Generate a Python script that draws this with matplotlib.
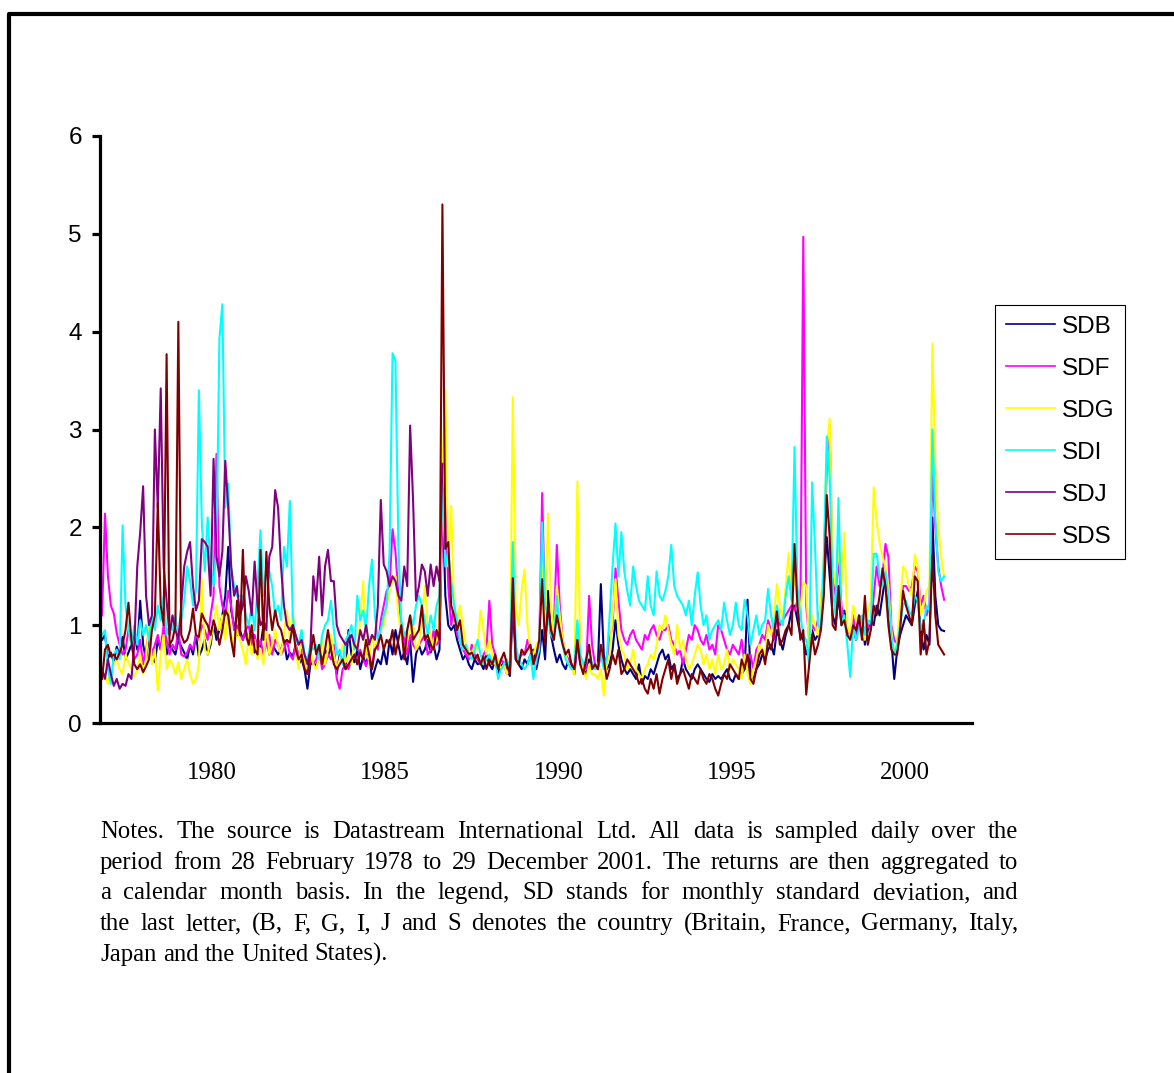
import matplotlib
matplotlib.use("Agg")
import matplotlib.pyplot as plt
import numpy as np
from matplotlib.lines import Line2D

# monthly standard deviations, one row of 12 per line
SDB = [0.85,0.90,0.66,0.72,0.62,0.78,0.70,0.88,0.65,0.72,0.80,0.95,
       0.75,1.25,0.80,0.65,0.90,0.70,0.62,0.85,0.75,0.95,0.70,0.80,
       0.75,0.70,0.85,0.78,0.72,0.65,0.80,0.70,0.90,0.68,0.75,0.85,
       0.70,0.80,1.02,0.85,0.95,1.10,1.30,1.80,1.15,1.00,0.90,0.95,
       0.85,0.95,0.80,0.90,0.72,0.85,0.78,1.00,0.92,0.70,0.80,0.75,
       0.70,0.75,0.85,0.65,0.72,0.68,0.80,0.60,0.65,0.55,0.35,0.60,
       0.62,0.58,0.70,0.60,0.75,0.68,0.80,0.65,0.50,0.70,0.62,0.55,
       0.95,0.70,0.62,0.75,0.55,0.68,0.60,0.72,0.45,0.55,0.65,0.60,
       0.75,0.60,0.85,0.70,0.95,0.80,0.65,0.72,0.60,0.85,0.42,0.70,
       0.80,0.70,0.75,0.85,0.72,0.80,0.65,0.75,2.40,1.30,1.00,0.95,
       1.00,0.85,0.75,0.65,0.70,0.60,0.55,0.65,0.60,0.62,0.55,0.70,
       0.60,0.55,0.65,0.50,0.58,0.62,0.55,0.48,1.20,0.65,0.60,0.55,
       0.65,0.60,0.70,0.75,0.55,0.70,0.95,0.65,1.35,0.90,0.75,0.62,
       0.70,0.60,0.55,0.65,0.60,0.50,0.85,0.60,0.55,0.50,0.65,0.60,
       0.55,0.60,1.42,0.70,0.55,0.60,0.75,1.05,0.80,0.65,0.55,0.50,
       0.55,0.50,0.45,0.60,0.40,0.48,0.45,0.55,0.50,0.60,0.70,0.75,
       0.65,0.70,0.55,0.60,0.45,0.50,0.65,0.55,0.50,0.45,0.55,0.60,
       0.55,0.50,0.45,0.42,0.50,0.45,0.48,0.45,0.50,0.55,0.45,0.42,
       0.50,0.45,0.50,0.55,1.26,0.50,0.45,0.55,0.60,0.70,0.65,0.75,
       0.80,0.70,0.95,0.85,0.75,0.90,1.00,1.15,1.20,1.05,0.90,0.85,
       0.70,0.80,0.95,0.85,0.90,1.00,1.40,1.90,1.50,1.10,1.00,1.30,
       1.00,1.15,0.95,0.90,1.00,0.85,1.10,1.05,0.80,0.95,1.05,1.00,
       1.20,1.10,1.30,1.50,1.20,0.85,0.45,0.75,0.90,1.00,1.10,1.05,
       1.00,1.20,1.35,0.95,0.75,0.90,0.80,2.10,1.30,1.00,0.95,0.94]

SDF = [1.10,2.14,1.50,1.20,1.12,0.92,0.80,0.70,0.75,0.95,0.82,0.65,
       0.70,0.85,0.60,0.75,0.95,0.70,0.80,0.90,0.75,1.00,0.85,0.70,
       0.80,0.75,0.95,0.70,0.68,0.72,0.80,0.75,0.90,0.85,1.00,0.95,
       0.85,1.10,1.30,2.75,1.40,1.20,1.10,1.35,1.20,0.95,1.00,0.90,
       0.85,0.95,1.00,0.80,0.90,0.75,0.85,0.70,0.80,0.90,0.70,0.85,
       0.80,0.70,0.75,0.85,0.70,0.65,0.80,0.70,0.75,0.60,0.50,0.65,
       0.60,0.65,0.75,0.55,0.60,0.70,0.65,0.80,0.45,0.35,0.55,0.60,
       0.55,0.65,0.70,0.60,0.75,0.65,0.58,0.70,0.55,0.80,0.75,1.05,
       1.20,1.35,1.40,1.98,1.75,1.30,1.00,0.85,0.70,0.90,0.80,0.75,
       0.80,0.85,0.90,0.70,0.75,0.95,0.80,0.85,2.10,2.30,1.40,1.00,
       1.20,0.90,0.85,0.75,0.70,0.65,0.80,0.70,0.65,0.60,0.70,0.75,
       1.25,0.80,0.70,0.55,0.65,0.60,0.50,0.55,1.40,0.75,0.65,0.70,
       0.70,0.85,0.75,0.65,0.60,0.80,2.35,1.10,1.20,0.90,1.00,1.82,
       1.20,0.85,0.70,0.65,0.60,0.55,0.80,0.65,0.60,0.55,1.30,0.80,
       0.60,0.55,0.70,0.65,0.60,0.85,1.00,1.58,1.25,0.95,0.85,0.80,
       0.90,0.95,0.85,0.80,0.75,0.90,0.85,0.95,1.00,0.90,0.85,0.95,
       0.95,1.00,0.85,0.80,0.70,0.75,0.60,0.75,0.90,0.85,1.00,0.95,
       0.85,0.80,0.90,0.75,0.80,0.70,1.00,0.95,0.85,0.75,0.70,0.80,
       0.75,0.70,0.85,0.60,0.65,0.70,0.55,0.75,0.80,0.90,0.85,1.05,
       0.95,0.85,1.10,1.00,1.05,1.10,1.15,1.20,1.15,1.25,1.05,4.97,
       1.20,0.85,1.00,0.95,1.05,1.20,1.60,2.60,3.05,1.50,1.30,1.70,
       1.20,1.05,0.95,0.90,1.10,0.85,1.00,1.05,0.90,1.00,0.95,1.30,
       1.60,1.40,1.50,1.83,1.70,1.00,0.85,0.80,1.10,1.40,1.40,1.35,
       1.40,1.60,1.55,1.20,1.30,1.10,1.20,2.60,2.00,1.60,1.40,1.26]

SDG = [0.45,0.50,0.40,0.55,0.60,0.65,0.55,0.50,0.70,0.62,0.55,0.48,
       0.55,0.70,0.50,0.65,1.05,0.60,0.75,0.33,0.70,0.90,0.55,0.65,
       0.60,0.50,0.62,0.45,0.55,0.65,0.50,0.40,0.45,0.60,1.48,0.75,
       0.70,0.85,1.00,1.20,0.95,1.10,0.85,1.15,0.90,0.80,0.95,0.85,
       0.75,0.60,0.90,0.70,0.85,0.65,0.75,0.60,1.00,0.70,0.80,0.95,
       0.80,0.70,0.90,1.15,0.85,1.15,0.75,0.55,0.95,0.60,0.55,0.75,
       0.60,0.55,0.70,0.85,0.60,0.75,0.90,0.70,0.55,0.65,0.80,0.62,
       0.70,0.60,0.85,0.75,1.05,1.45,0.70,0.65,0.90,0.75,0.85,0.95,
       1.00,1.20,1.35,1.45,1.50,1.10,0.90,0.70,0.85,0.95,1.00,0.75,
       0.80,1.05,1.40,1.00,0.90,0.75,0.85,1.05,2.60,3.40,1.60,2.22,
       1.15,1.05,1.20,1.00,0.80,0.75,0.70,0.80,0.75,1.15,0.95,0.70,
       0.85,0.70,0.60,0.65,0.55,0.60,0.50,0.58,3.33,1.20,1.00,1.35,
       1.57,1.00,0.75,0.70,0.80,0.85,1.60,0.95,2.14,1.20,0.90,1.40,
       1.10,0.85,0.70,0.60,0.55,0.50,2.47,0.70,0.55,0.45,0.60,0.50,
       0.50,0.45,0.55,0.28,0.60,0.70,1.10,1.47,0.90,0.75,0.70,0.55,
       0.60,0.75,0.55,0.50,0.45,0.55,0.60,0.70,0.65,0.80,1.00,0.95,
       1.10,0.95,0.80,0.70,1.00,0.75,0.85,0.65,0.55,0.60,0.70,0.80,
       0.75,0.60,0.70,0.55,0.65,0.50,0.70,0.55,0.60,0.75,0.55,0.65,
       0.60,0.55,0.45,0.70,0.50,0.40,0.55,0.65,0.80,0.75,0.70,1.00,
       0.90,1.10,1.42,1.20,1.05,1.40,1.74,1.30,1.50,1.20,1.15,1.44,
       1.40,0.75,1.10,1.00,0.90,1.25,1.70,2.80,3.11,1.60,1.40,1.80,
       1.40,1.95,1.00,0.90,1.20,1.05,1.10,0.95,0.85,1.15,1.25,2.41,
       2.05,1.85,1.70,1.60,1.40,0.95,0.70,0.85,1.20,1.60,1.55,1.40,
       1.30,1.72,1.60,1.10,1.20,1.35,1.40,3.88,2.60,2.00,1.70,1.49]

SDI = [0.90,0.95,0.55,0.40,0.70,0.75,0.65,2.02,1.20,0.95,0.80,1.00,
       0.80,1.05,0.90,1.00,0.85,1.10,0.95,1.20,1.05,1.30,0.90,1.00,
       0.95,1.10,0.85,1.05,1.25,1.60,1.45,1.20,1.35,3.40,2.05,1.55,
       2.10,1.60,1.40,1.80,3.93,4.28,2.20,2.45,1.60,1.40,1.30,1.30,
       1.30,1.10,1.00,1.20,0.95,1.40,1.97,1.30,1.60,1.55,1.40,1.10,
       1.20,1.05,1.80,1.60,2.27,1.10,0.85,0.80,0.95,0.70,0.65,0.80,
       0.75,0.80,0.65,0.90,1.00,1.05,1.25,0.95,0.70,0.75,0.60,0.85,
       0.90,1.00,0.75,1.30,1.05,1.15,0.95,1.40,1.67,1.10,0.85,0.95,
       1.10,1.20,1.75,3.78,3.70,1.80,1.05,0.90,0.95,1.10,1.00,1.20,
       1.30,1.20,1.05,0.90,1.10,0.95,1.20,1.30,2.50,1.60,1.75,1.45,
       1.20,1.05,0.85,0.75,0.80,0.70,0.65,0.75,0.85,0.70,0.60,0.65,
       0.70,0.60,0.65,0.45,0.55,0.60,0.65,0.55,1.85,0.80,0.65,0.60,
       0.55,0.60,0.70,0.45,0.65,0.75,2.05,1.20,1.10,0.90,0.85,1.30,
       0.90,0.80,0.65,0.60,0.55,0.60,1.05,0.70,0.60,0.65,0.75,0.60,
       0.55,0.60,0.70,0.55,0.65,1.10,1.60,2.04,1.50,1.95,1.55,1.35,
       1.20,1.60,1.40,1.25,1.20,1.15,1.50,1.20,1.10,1.55,1.30,1.25,
       1.35,1.50,1.82,1.40,1.30,1.25,1.20,1.10,1.25,1.00,1.30,1.54,
       1.20,1.00,1.10,0.85,0.95,1.00,1.05,0.95,1.23,1.05,0.90,1.00,
       1.23,1.00,0.95,1.26,1.10,0.80,0.95,1.10,0.90,1.00,1.05,1.37,
       1.10,0.95,1.20,1.05,1.00,1.30,1.50,1.25,2.82,1.40,1.10,0.90,
       0.85,0.60,2.46,1.80,1.00,0.95,1.70,2.93,2.50,1.40,1.10,2.30,
       1.00,1.10,0.80,0.47,1.00,0.85,0.95,1.10,0.90,1.05,1.00,1.73,
       1.73,1.50,1.40,1.55,1.30,0.90,0.70,0.80,1.00,1.20,1.25,1.15,
       1.10,1.30,1.25,0.95,1.00,1.20,1.15,3.00,2.10,1.55,1.45,1.50]

# Japan series stops after the 1987 crash
SDJ = [0.55,0.45,0.65,0.50,0.38,0.45,0.35,0.40,0.38,0.50,0.45,0.80,
       1.60,1.95,2.42,1.30,1.00,1.10,3.00,2.20,3.42,1.60,1.25,0.90,
       1.10,0.95,0.85,1.20,1.60,1.75,1.85,1.40,1.15,1.25,1.88,1.85,
       1.80,1.30,2.70,1.70,1.50,1.75,2.68,2.20,1.60,1.30,1.40,1.10,
       1.20,1.50,1.35,1.10,1.65,1.20,1.00,1.05,0.95,1.70,1.80,2.38,
       2.20,1.60,1.20,1.00,0.95,1.00,0.90,0.80,0.85,0.70,0.60,0.75,
       1.50,1.25,1.70,1.10,1.60,1.77,1.45,1.45,1.00,0.90,0.85,0.80,
       0.85,0.90,0.80,0.75,0.95,0.85,1.00,0.80,0.90,0.85,1.20,2.28,
       1.62,1.55,1.40,1.50,1.45,1.30,1.25,1.60,1.40,3.04,2.28,1.25,
       1.40,1.62,1.55,1.30,1.62,1.40,1.60,1.45,2.65]

SDS = [0.45,0.75,0.80,0.68,0.70,0.65,0.72,0.80,0.95,1.23,0.85,0.60,
       0.55,0.60,0.52,0.58,0.65,0.95,1.10,2.25,1.20,1.00,3.77,0.80,
       0.85,1.00,4.10,0.90,0.82,0.85,0.95,1.17,0.90,0.88,1.12,1.05,
       1.00,0.90,1.05,0.95,0.80,0.95,1.15,1.10,0.85,0.68,1.25,0.90,
       1.77,0.90,0.80,1.00,0.75,0.70,1.77,0.85,1.75,1.20,0.95,1.15,
       1.00,0.95,0.82,0.85,0.82,1.00,0.75,0.65,0.70,0.55,0.50,0.70,
       0.90,0.70,0.80,0.60,0.75,0.95,0.75,0.60,0.55,0.60,0.65,0.55,
       0.60,0.65,0.70,0.60,0.72,0.65,0.85,0.70,0.55,0.75,0.80,0.90,
       0.75,0.85,0.80,0.95,0.70,0.85,1.00,0.65,0.95,1.10,0.85,0.90,
       0.95,1.20,0.85,0.90,0.80,0.75,0.95,0.85,5.30,1.78,1.85,1.20,
       1.10,0.95,1.05,0.80,0.75,0.70,0.72,0.65,0.70,0.60,0.68,0.55,
       0.65,0.60,0.70,0.55,0.65,0.72,0.60,0.50,1.48,0.65,0.60,0.75,
       0.70,0.75,0.80,0.60,0.70,0.85,1.47,0.80,1.20,0.95,0.85,1.10,
       0.95,0.80,0.70,0.75,0.60,0.55,0.85,0.60,0.50,0.65,0.80,0.55,
       0.60,0.55,0.80,0.65,0.45,0.55,0.70,0.60,0.75,0.50,0.55,0.65,
       0.60,0.55,0.50,0.40,0.45,0.35,0.30,0.45,0.35,0.50,0.30,0.45,
       0.55,0.65,0.45,0.60,0.40,0.50,0.55,0.45,0.35,0.50,0.45,0.40,
       0.55,0.45,0.40,0.50,0.45,0.35,0.28,0.40,0.50,0.45,0.60,0.55,
       0.50,0.45,0.65,0.55,0.70,0.45,0.40,0.55,0.70,0.75,0.60,0.85,
       0.75,0.90,1.14,0.80,0.85,0.95,1.00,0.90,1.83,1.20,0.85,0.95,
       0.29,0.60,0.90,0.70,0.80,0.95,1.30,2.33,1.90,1.00,0.95,1.40,
       1.00,1.05,0.90,0.85,1.00,0.95,1.10,0.85,1.30,0.80,0.95,1.20,
       1.10,1.30,1.58,1.40,1.00,0.75,0.70,0.70,0.95,1.35,1.20,1.10,
       1.00,1.50,1.45,0.70,1.05,0.70,0.85,1.72,1.10,0.80,0.75,0.70]

names = ["SDB", "SDF", "SDG", "SDI", "SDJ", "SDS"]
colors = ["#000080", "#FF00FF", "#FFFF00", "#00FFFF", "#800080", "#800000"]
year_labels = ["1980", "1985", "1990", "1995", "2000"]
year_pos = [37.5, 96.5, 155.5, 214.5, 273.5]

W, H = 1174, 1073
fig = plt.figure(figsize=(W / 100, H / 100), dpi=100)
ax = fig.add_axes([100 / W, 1 - 723 / H, 872 / W, 587 / H])

for name, vals, c in zip(names, [SDB, SDF, SDG, SDI, SDJ, SDS], colors):
    ax.plot(np.arange(len(vals)), vals, color=c, lw=1.5, label=name)

ax.set_xlim(-0.7, 296.5)
ax.set_ylim(0, 6)
for s in ["top", "right"]:
    ax.spines[s].set_visible(False)
for s in ["left", "bottom"]:
    ax.spines[s].set_linewidth(2.3)
ax.set_yticks(range(7))
ax.tick_params(axis="y", direction="out", length=6, width=2.3, pad=7,
               labelsize=17.5)
for t in ax.get_yticklabels():
    t.set_family("Liberation Sans")
ax.set_xticks(year_pos)
ax.set_xticklabels(year_labels, family="Liberation Serif", fontsize=18)
ax.tick_params(axis="x", length=0, pad=28)

leg = ax.legend(loc="upper left", bbox_to_anchor=(995 / W, 1 - 305 / H),
                bbox_transform=fig.transFigure, borderaxespad=0,
                prop={"family": "Liberation Sans", "size": 17.5},
                handlelength=2.0, handletextpad=0.3, labelspacing=0.82,
                borderpad=0.45, fancybox=False, framealpha=1)
leg.get_frame().set_edgecolor("black")
leg.get_frame().set_linewidth(0.8)
for h in leg.get_lines():
    h.set_linewidth(1.2)

# outer frame (top and left edge only, rest is cut off)
fig.add_artist(Line2D([9 / W, 9 / W, 1], [0, 1 - 14 / H, 1 - 14 / H],
                      transform=fig.transFigure, color="black", lw=3))

notes = ["Notes.   The source is Datastream International Ltd.  All data is sampled daily over the",
         "period from 28 February 1978 to 29 December 2001.  The returns are then aggregated to",
         "a calendar month basis.  In the legend, SD stands for monthly standard deviation, and",
         "the last letter, (B, F, G, I, J and S denotes the country (Britain, France, Germany, Italy,",
         "Japan and the United States)."]

renderer = fig.canvas.get_renderer()
left, right = 100, 1018
fs_note = 17.8
space_w = fig.text(0, 0, "a a", family="Liberation Serif", fontsize=fs_note,
                   alpha=0).get_window_extent(renderer).width - \
          fig.text(0, 0, "aa", family="Liberation Serif", fontsize=fs_note,
                   alpha=0).get_window_extent(renderer).width
for k, line in enumerate(notes):
    yb = 1 - (838 + k * 30.7) / H
    words = line.split()
    objs = [fig.text(0, yb, w, family="Liberation Serif", fontsize=fs_note,
                     va="baseline") for w in words]
    widths = [o.get_window_extent(renderer).width for o in objs]
    if k < len(notes) - 1:
        gap = (right - left - sum(widths)) / (len(words) - 1)
    else:
        gap = space_w
    x = left
    for o, w in zip(objs, widths):
        o.set_x(x / W)
        x += w + gap

fig.savefig("out.png", dpi=100)
